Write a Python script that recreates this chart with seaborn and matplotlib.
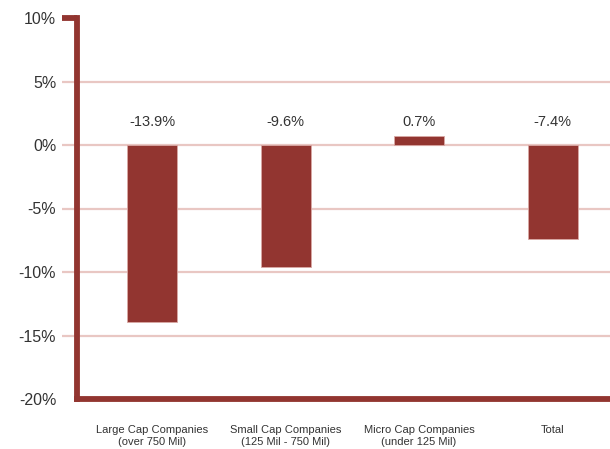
import matplotlib
matplotlib.use("Agg")
import matplotlib.pyplot as plt
import seaborn as sns
import pandas as pd
from matplotlib.ticker import FuncFormatter

categories = ["Large Cap Companies\n(over 750 Mil)", "Small Cap Companies\n(125 Mil - 750 Mil)",
              "Micro Cap Companies\n(under 125 Mil)", "Total"]
values = [-13.9, -9.6, 0.7, -7.4]
labels = ["-13.9%", "-9.6%", "0.7%", "-7.4%"]
yticks = [-20, -15, -10, -5, 0, 5, 10]

sns.set_style("white")
plt.rcParams['font.family'] = ['Liberation Sans Narrow', 'Liberation Sans', 'DejaVu Sans']

RED = "#923530"
GRID = "#E9C7C3"
TXT = "#333333"

df = pd.DataFrame({"cat": categories, "val": values})

fig = plt.figure(figsize=(6.10, 4.49), dpi=100)
ax = fig.add_axes([77/610, 50/449, 1 - 77/610, (399-18)/449])

sns.barplot(data=df, x="cat", y="val", color=RED, saturation=1, width=0.375, ax=ax, zorder=3)
for p in ax.patches:
    p.set_edgecolor("#D9A9A5")
    p.set_linewidth(0.6)

ax.set_ylim(-20, 10)
ax.set_xlim(-0.562, 3.43)
ax.set_yticks(yticks)
ax.yaxis.set_major_formatter(FuncFormatter(lambda v, p: f"{int(v)}%"))
ax.set_xlabel("")
ax.set_ylabel("")

for y in yticks[1:-1]:
    ax.axhline(y, color=GRID, lw=1.6, zorder=1)

for s in ["top", "right"]:
    ax.spines[s].set_visible(False)
for s in ["left", "bottom"]:
    ax.spines[s].set_color(RED)
    ax.spines[s].set_linewidth(4.2)
    ax.spines[s].set_zorder(4)

ax.tick_params(axis="y", left=True, length=11, width=1.6, color=GRID, pad=4, labelsize=11.5, labelcolor=TXT)
ax.tick_params(axis="x", bottom=False, length=0, pad=19, labelsize=8, labelcolor=TXT)
ticks = ax.yaxis.get_major_ticks()
ticks[-1].tick1line.set_markeredgecolor(RED)
ticks[-1].tick1line.set_markeredgewidth(4.2)
ticks[0].tick1line.set_visible(False)

for i, lab in enumerate(labels):
    ax.text(i, 1.25, lab, ha="center", va="bottom", fontsize=10.5, color=TXT)

fig.savefig("out.png", dpi=100)
